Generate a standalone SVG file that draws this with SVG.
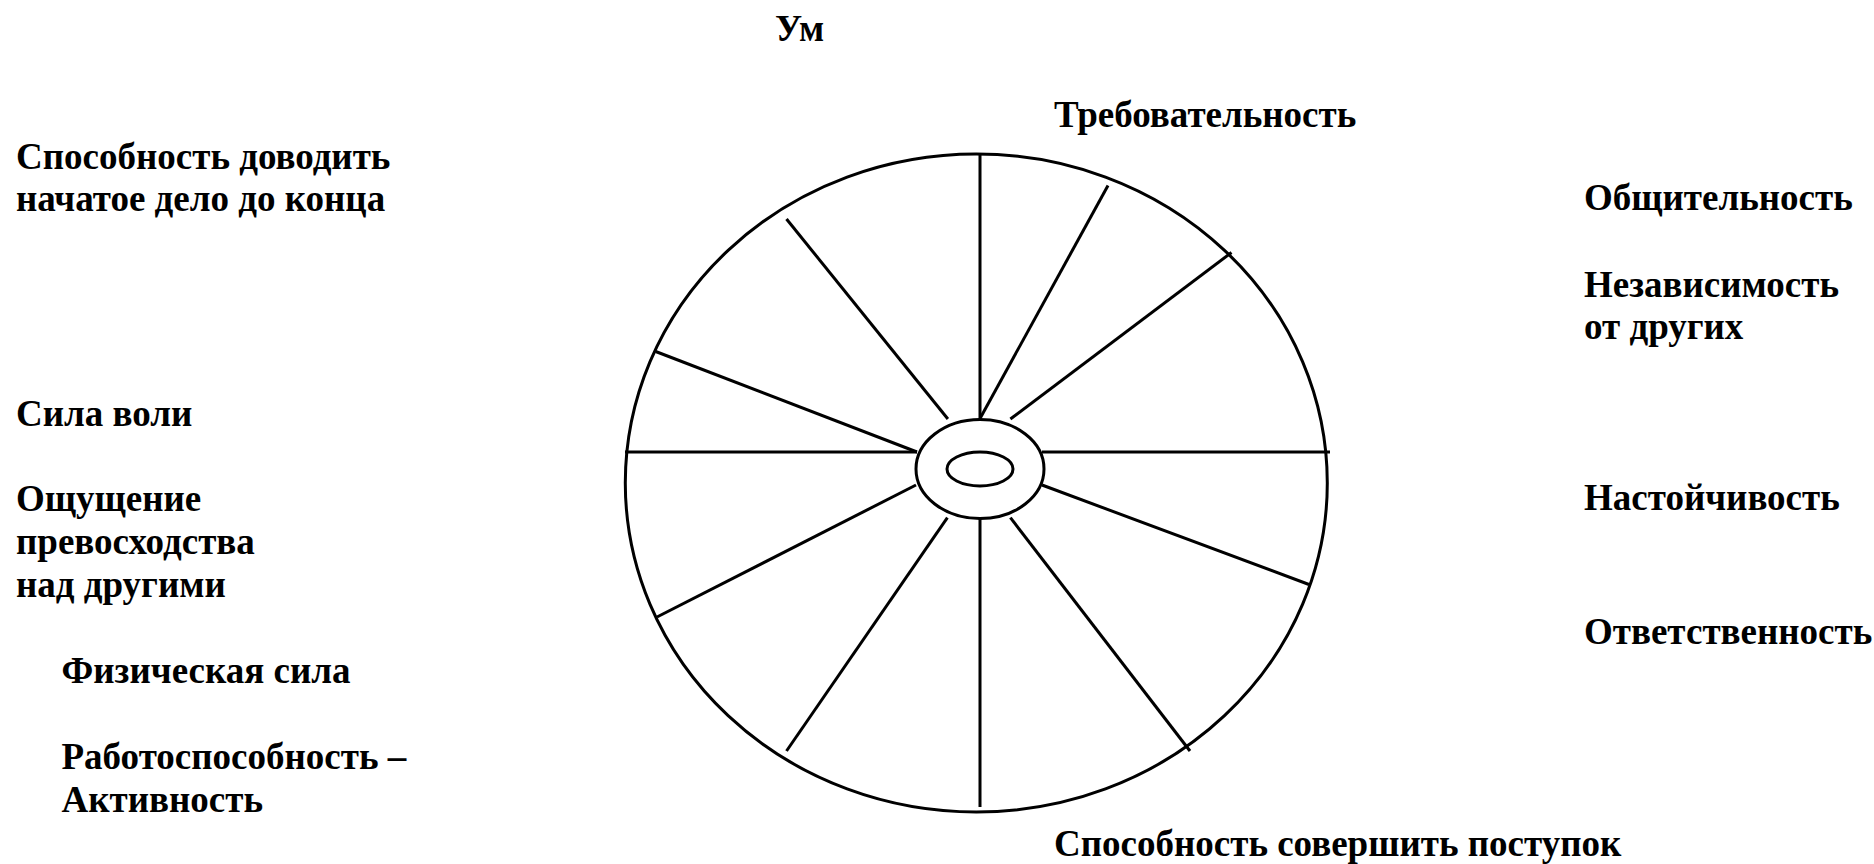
<svg xmlns="http://www.w3.org/2000/svg" width="1874" height="864" viewBox="0 0 1874 864">
<style>
.t{font-family:"Liberation Serif","Times New Roman",serif;font-weight:bold;font-size:37px;fill:#000}
.s{stroke:#000;stroke-width:3;fill:none;stroke-linecap:butt}
</style>
<rect width="1874" height="864" fill="#fff"/>
<g id="wheel">
<ellipse class="s" cx="976.3" cy="483" rx="351" ry="329"/>
</g>
<g id="connectors">
<line class="s" x1="980" y1="154" x2="980" y2="419"/>
<line class="s" x1="1108" y1="185.5" x2="980.3" y2="418"/>
<line class="s" x1="1231.5" y1="252.5" x2="1010.4" y2="419"/>
<line class="s" x1="1042" y1="452" x2="1330" y2="452"/>
<line class="s" x1="1042" y1="485" x2="1309" y2="584.5"/>
<line class="s" x1="1010.4" y1="517.7" x2="1190" y2="751"/>
<line class="s" x1="980" y1="519" x2="980" y2="807"/>
<line class="s" x1="947.4" y1="517.7" x2="786.5" y2="751"/>
<line class="s" x1="916" y1="485" x2="657" y2="617"/>
<line class="s" x1="625" y1="452" x2="917" y2="452"/>
<line class="s" x1="655.7" y1="351.5" x2="917" y2="452"/>
<line class="s" x1="786.5" y1="219" x2="947.9" y2="419"/>
</g>
<g id="hub">
<ellipse class="s" cx="980" cy="469" rx="64" ry="49.5"/>
<ellipse class="s" cx="980" cy="469" rx="33" ry="17"/>
</g>
<g id="label-um"><text class="t" x="775" y="41">Ум</text></g>
<g id="label-treb"><text class="t" x="1054" y="127">Требовательность</text></g>
<g id="label-sposob-dovodit"><text class="t" x="16" y="168.5">Способность доводить</text><text class="t" x="16" y="211">начатое дело до конца</text></g>
<g id="label-obsch"><text class="t" x="1584" y="210">Общительность</text></g>
<g id="label-nezav"><text class="t" x="1584" y="296.5">Независимость</text><text class="t" x="1584" y="339">от других</text></g>
<g id="label-sila-voli"><text class="t" x="16" y="425.7">Сила воли</text></g>
<g id="label-oschusch"><text class="t" x="16" y="511">Ощущение</text><text class="t" x="16" y="554">превосходства</text><text class="t" x="16" y="597">над другими</text></g>
<g id="label-fiz"><text class="t" x="61.5" y="683">Физическая сила</text></g>
<g id="label-rabot"><text class="t" x="61.5" y="769">Работоспособность –</text><text class="t" x="61.5" y="812">Активность</text></g>
<g id="label-nast"><text class="t" x="1584" y="510">Настойчивость</text></g>
<g id="label-otv"><text class="t" x="1584" y="644">Ответственность</text></g>
<g id="label-postupok"><text class="t" x="1054" y="856">Способность совершить поступок</text></g>
</svg>
